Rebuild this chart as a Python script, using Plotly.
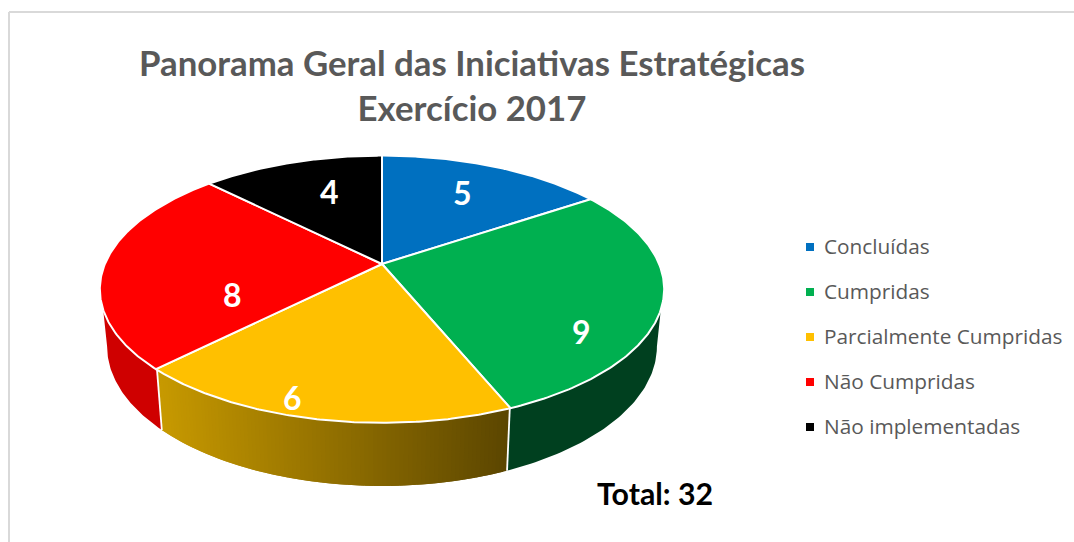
import numpy as np
import plotly.graph_objects as go

categories = ["Concluídas", "Cumpridas", "Parcialmente Cumpridas", "Não Cumpridas", "Não implementadas"]
values = [5, 9, 6, 8, 4]
colors = ["#0070C0", "#00B050", "#FFC000", "#FF0000", "#000000"]
title_lines = ["Panorama Geral das Iniciativas Estratégicas", "Exercício 2017"]
total_label = "Total: 32"

# label pixel positions in the page (layout, not data)
LABEL_POS = [(462, 192), (581, 331), (292, 397), (232, 294), (329, 191)]
KEY_TOP, KEY_STEP, KEY_X, KEY_TEXT_X = 247, 45, 810, 822
WALL_LEFT, WALL_RIGHT = (200, 154, 0), (92, 70, 0)
WALL_FIXED = {1: "#00401F", 3: "#CF0000"}

# perspective of the disc
K, CX = 0.188, 382
TOP = dict(A=276, C=264, D=-78.7)
BOT = dict(A=270, C=320.2, D=-74.4)
RIM = 1.004


def project(theta, g, r=1.0):
    u, v = r * np.sin(theta), r * np.cos(theta)
    den = 1 + K * v
    return CX + g["A"] * u / den, (g["C"] + g["D"] * v) / den


total = sum(values)
edges = 2 * np.pi * np.cumsum([0] + values) / total
vis_a = np.arccos(-K)
vis_b = 2 * np.pi - vis_a

fig = go.Figure()


def poly(x, y, fill, line=None, width=0.0):
    fig.add_trace(go.Scatter(
        x=x, y=y, mode="lines", fill="toself", fillcolor=fill,
        line=dict(color=line or fill, width=width), hoverinfo="skip", showlegend=False))


# side wall
for i in range(len(values)):
    a, b = max(edges[i], vis_a), min(edges[i + 1], vis_b)
    if b <= a:
        continue
    steps = 90 if i not in WALL_FIXED else 1
    cuts = np.linspace(a, b, steps + 1)
    xl0 = project(np.array(a), BOT)[0]
    xl1 = project(np.array(b), BOT)[0]
    # painted from the far end so that each strip overlaps its neighbour
    for n in range(steps):
        c0, c1 = cuts[n], cuts[min(n + 2, steps)]
        t = np.linspace(c0, c1, 60 if steps == 1 else 6)
        xt, yt = project(t, TOP)
        xb, yb = project(t, BOT)
        if i in WALL_FIXED:
            col = WALL_FIXED[i]
        else:
            xm = project(np.array(cuts[n]), BOT)[0]
            f = (xm - xl0) / (xl1 - xl0)  # 0 at the right end, 1 at the left end
            rgb = [int(round(WALL_RIGHT[j] + (WALL_LEFT[j] - WALL_RIGHT[j]) * f)) for j in range(3)]
            col = "rgb(%d,%d,%d)" % tuple(rgb)
        poly(np.r_[xt, xb[::-1]], np.r_[yt, yb[::-1]], col)

# white seams on the wall
for e in edges:
    if vis_a < e < vis_b:
        xt, yt = project(np.array(e), TOP)
        xb, yb = project(np.array(e), BOT)
        fig.add_trace(go.Scatter(x=[xt, xb], y=[yt, yb], mode="lines",
                                 line=dict(color="white", width=1.8), hoverinfo="skip", showlegend=False))

# top face
for i, name in enumerate(categories):
    t = np.linspace(edges[i], edges[i + 1], 150)
    x, y = project(t, TOP, RIM)
    ax, ay = project(np.array(0.0), TOP, 0.0)
    poly(np.r_[ax, x, ax], np.r_[ay, y, ay], colors[i], line="white", width=2)

# colour key
for i, name in enumerate(categories):
    yk = KEY_TOP + i * KEY_STEP
    fig.add_trace(go.Scatter(x=[KEY_X], y=[yk], mode="markers",
                             marker=dict(symbol="square", size=8, color=colors[i]),
                             name=name, showlegend=False, hoverinfo="name"))

anns = []
for v, (lx, ly) in zip(values, LABEL_POS):
    anns.append(dict(x=lx, y=ly, text="<b>%d</b>" % v, showarrow=False,
                     font=dict(family="Lato", size=32, color="white")))
for i, name in enumerate(categories):
    anns.append(dict(x=KEY_TEXT_X, y=KEY_TOP - 1 + i * KEY_STEP, text=name, xanchor="left", showarrow=False,
                     font=dict(family="Open Sans", size=20.8, color="#595959")))
anns.append(dict(x=655, y=493, text="<b>%s</b>" % total_label, showarrow=False,
                 font=dict(family="Lato", size=30.3, color="black")))

fig.update_layout(
    width=1074, height=542, margin=dict(l=0, r=0, t=0, b=0),
    paper_bgcolor="white", plot_bgcolor="white", showlegend=False,
    title=dict(text="<b>%s</b><br><b>%s</b>" % tuple(title_lines), x=472 / 1074, xanchor="center",
               y=1 - 76 / 542, yanchor="top", font=dict(family="Lato", size=34.8, color="#595959")),
    xaxis=dict(range=[0, 1074], visible=False, fixedrange=True),
    yaxis=dict(range=[542, 0], visible=False, fixedrange=True),
    annotations=anns,
    shapes=[
        dict(type="line", xref="x", yref="y", x0=9, x1=1074, y0=12, y1=12, line=dict(color="#D9D9D9", width=2)),
        dict(type="line", xref="x", yref="y", x0=9, x1=9, y0=12, y1=542, line=dict(color="#D9D9D9", width=2)),
    ],
)
fig.write_html("out.html", config={"displayModeBar": False},
               post_script="document.body.style.margin='0';document.documentElement.style.overflow='hidden';")
